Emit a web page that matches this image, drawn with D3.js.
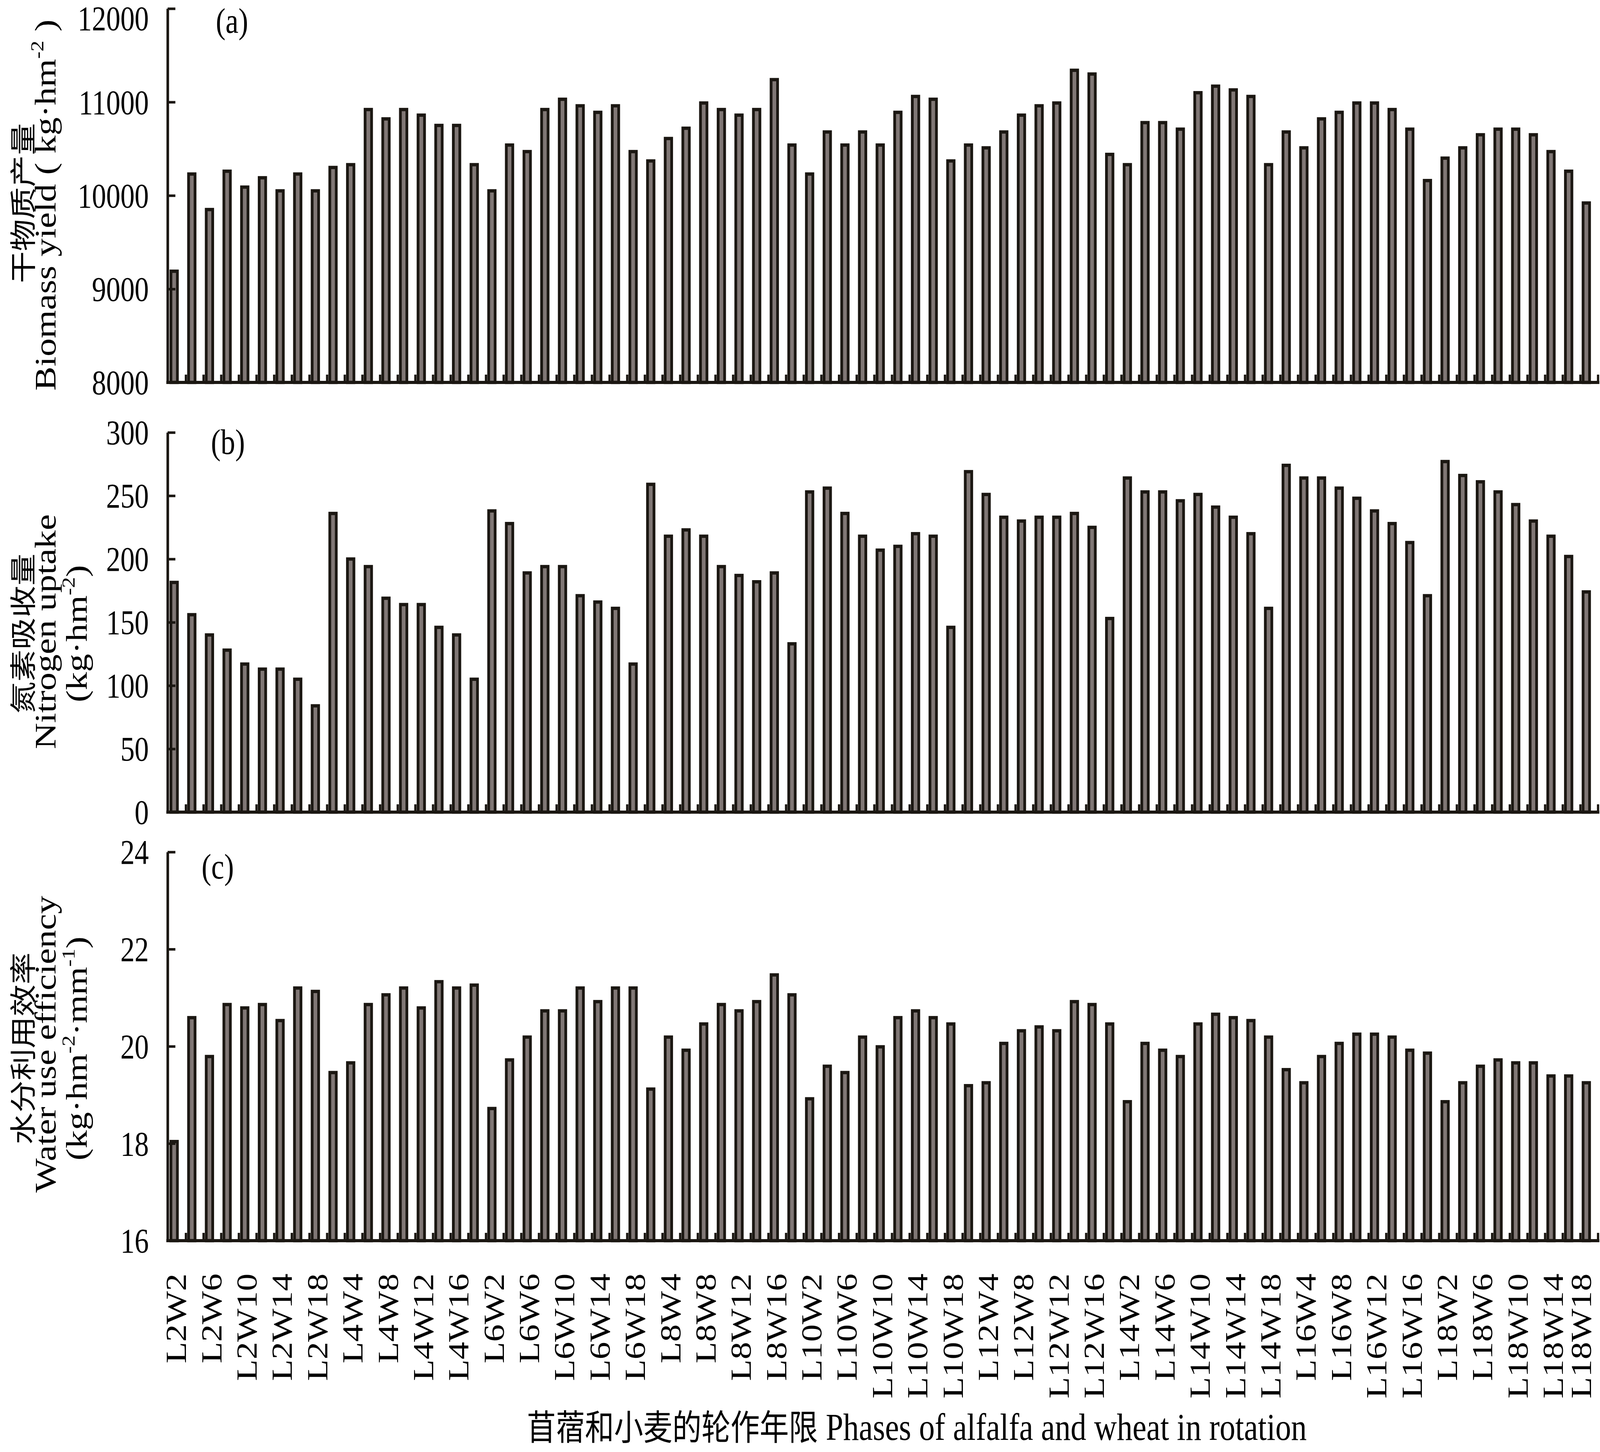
<!DOCTYPE html>
<html><head><meta charset="utf-8">
<script src="https://cdn.jsdelivr.net/npm/d3@7"></script>
<style>html,body{margin:0;padding:0;background:#fff;width:100%;height:100%;overflow:hidden;} svg{display:block;width:100vw;height:100vh;}</style>
</head><body><svg id="chart" viewBox="0 0 4945 3717" preserveAspectRatio="none"></svg>
<script>
// ---------- DATA ----------
const alfalfaYears = [2,4,6,8,10,12,14,16,18];
const wheatYears = [2,4,6,8,10,12,14,16,18];
const categories = alfalfaYears.flatMap(l => wheatYears.map(w => `L${l}W${w}`));

const biomass = [
  9190,10230,9850,10260,10090,10190,10050,10230,10050,
  10300,10330,10920,10820,10920,10860,10750,10750,10330,
  10050,10540,10470,10920,11030,10960,10890,10960,10470,
  10370,10610,10720,10990,10920,10860,10920,11240,10540,
  10230,10680,10540,10680,10540,10890,11060,11030,10370,
  10540,10510,10680,10860,10960,10990,11340,11300,10440,
  10330,10780,10780,10710,11100,11170,11130,11060,10330,
  10680,10510,10820,10890,10990,10990,10920,10710,10160,
  10400,10510,10650,10710,10710,10650,10470,10260,9920
];
const nitrogen = [
  181.5,156,140,128,117,113,113,105,84,
  236,200,194,169,164,164,146,140,105,
  238,228,189,194,194,171,166,161,117,
  259,218,223,218,194,187,182,189,133,
  253,256,236,218,207,210,220,218,146,
  269,251,233,230,233,233,236,225,153,
  264,253,253,246,251,241,233,220,161,
  274,264,264,256,248,238,228,213,171,
  277,266,261,253,243,230,218,202,174
];
const wue = [
  18.04,20.59,19.79,20.86,20.79,20.86,20.53,21.20,21.13,
  19.46,19.66,20.86,21.06,21.20,20.79,21.33,21.20,21.26,
  18.72,19.72,20.19,20.73,20.73,21.20,20.92,21.20,21.20,
  19.12,20.19,19.92,20.46,20.86,20.73,20.92,21.47,21.06,
  18.92,19.59,19.46,20.19,19.99,20.59,20.73,20.59,20.46,
  19.19,19.25,20.06,20.32,20.40,20.32,20.92,20.86,20.46,
  18.86,20.06,19.92,19.79,20.46,20.66,20.59,20.53,20.19,
  19.52,19.25,19.79,20.06,20.25,20.25,20.19,19.92,19.86,
  18.86,19.25,19.59,19.72,19.66,19.66,19.39,19.39,19.25
];
const biomassTicks = [8000,9000,10000,11000,12000];
const nitrogenTicks = [0,50,100,150,200,250,300];
const wueTicks = [16,18,20,22,24];
const panelLabels = ["(a)","(b)","(c)"];
const xTitleCn = "苜蓿和小麦的轮作年限";
const xTitleEn = "Phases of alfalfa and wheat in rotation";

// ---------- STYLE / LAYOUT ----------
const SERIF = "'Liberation Serif','Times New Roman',serif";
const CJK = "'Noto Sans CJK SC','Noto Sans CJK JP',sans-serif";
const FILL = "#807775", INK = "#1b1712";
const X0 = 518, X1 = 4937, XEND = 4939;

const svg = d3.select("#chart");
const x = d3.scaleBand().domain(categories).range([X0, X1]).paddingInner(0).paddingOuter(0);

const panels = [
  {values: biomass, ticks: biomassTicks, domain:[8000,12000], range:[979,22],
   label:{x:667,y:84},
   titles:[
     {cn:"干物质产量", x:101, y:520},
     {en:["Biomass yield ( kg·hm","-2"," )"], x:172, y:525}
   ]},
  {values: nitrogen, ticks: nitrogenTicks, domain:[0,300], range:[2079,1107],
   label:{x:652,y:1162},
   titles:[
     {cn:"氮素吸收量", x:101, y:1622},
     {en:["Nitrogen uptake"], x:172, y:1617},
     {en:["(kg·hm","-2",")"], x:268, y:1622}
   ]},
  {values: wue, ticks: wueTicks, domain:[16,24], range:[3176,2181],
   label:{x:623,y:2249},
   titles:[
     {cn:"水分利用效率", x:101, y:2684},
     {en:["Water use efficiency"], x:172, y:2673},
     {en:["(kg·hm","-2","·mm","-1",")"], x:268, y:2684}
   ]}
];

panels.forEach((p, pi) => {
  const y = d3.scaleLinear().domain(p.domain).range(p.range);
  const base = y(p.domain[0]);
  const g = svg.append("g");

  // bars
  g.selectAll("rect.bar").data(p.values).join("rect")
    .attr("class","bar")
    .attr("x", (d,i) => x(categories[i]) + 10.25)
    .attr("width", 20)
    .attr("y", d => y(d))
    .attr("height", d => base - y(d))
    .attr("fill", FILL).attr("stroke", INK).attr("stroke-width", 8.5)
    .attr("stroke-linejoin","miter");

  // y axis
  const ya = g.append("g").attr("transform", `translate(${X0},0)`)
    .call(d3.axisLeft(y).tickValues(p.ticks).tickSizeInner(-24).tickSizeOuter(0).tickPadding(58).tickFormat(d3.format("d")));
  ya.attr("font-family", SERIF);
  ya.select(".domain").attr("stroke", INK).attr("stroke-width", 8);
  ya.selectAll(".tick line").attr("stroke", INK).attr("stroke-width", 6.5);
  ya.selectAll(".tick text").attr("font-family", SERIF).attr("font-size", 88).attr("fill","#000")
    .attr("dy", d => (pi === 0 && d === p.domain[1]) ? "0.62em" : "0.34em");

  // x baseline and boundary ticks
  g.append("line").attr("x1", X0-4).attr("x2", XEND+4).attr("y1", base).attr("y2", base)
    .attr("stroke", INK).attr("stroke-width", 8);
  const bounds = categories.slice(1).map(c => x(c) + 2).concat([XEND]);
  g.selectAll("line.xt").data(bounds).join("line").attr("class","xt")
    .attr("x1", d => d).attr("x2", d => d).attr("y1", base).attr("y2", base - 20)
    .attr("stroke", INK).attr("stroke-width", 7);

  // panel label
  g.append("text").attr("x", p.label.x).attr("y", p.label.y)
    .attr("font-family", SERIF).attr("font-size", 90).attr("fill","#000").text(panelLabels[pi]);

  // y titles
  p.titles.forEach(t => {
    const tt = g.append("text").attr("transform", `translate(${t.x},${t.y}) rotate(-90)`)
      .attr("text-anchor","middle").attr("fill","#000");
    if (t.cn) {
      tt.attr("font-family", CJK).attr("font-size", 82).text(t.cn);
    } else {
      tt.attr("font-family", SERIF).attr("font-size", 93);
      t.en.forEach((s, k) => {
        const isSup = k % 2 === 1;
        tt.append("tspan").text(s)
          .attr("font-size", isSup ? 56 : 93)
          .attr("dy", isSup ? -38 : (k > 0 ? 38 : 0));
      });
    }
  });

  // x category labels (bottom panel only)
  if (pi === 2) {
    const labelled = categories.filter((d,i) => i % 2 === 0);
    const last = labelled[labelled.length - 1];
    const xa = g.append("g").attr("transform", `translate(0,${base})`)
      .call(d3.axisBottom(x).tickValues(labelled).tickSize(0).tickPadding(0));
    xa.select(".domain").remove();
    xa.selectAll(".tick text")
      .attr("transform","rotate(-90)")
      .attr("text-anchor","end")
      .attr("x", -84).attr("y", 0)
      .attr("dy", d => d === last ? "0.08em" : "0.33em")
      .attr("font-family", SERIF).attr("font-size", 90).attr("fill","#000");
  }
});

// x-axis title
const xt = svg.append("text").attr("x", 1628).attr("y", 3686).attr("fill","#000");
xt.append("tspan").attr("font-family", CJK).attr("font-size", 90).text(xTitleCn);
xt.append("tspan").attr("font-family", SERIF).attr("font-size", 97).text(" " + xTitleEn);
</script></body></html>
